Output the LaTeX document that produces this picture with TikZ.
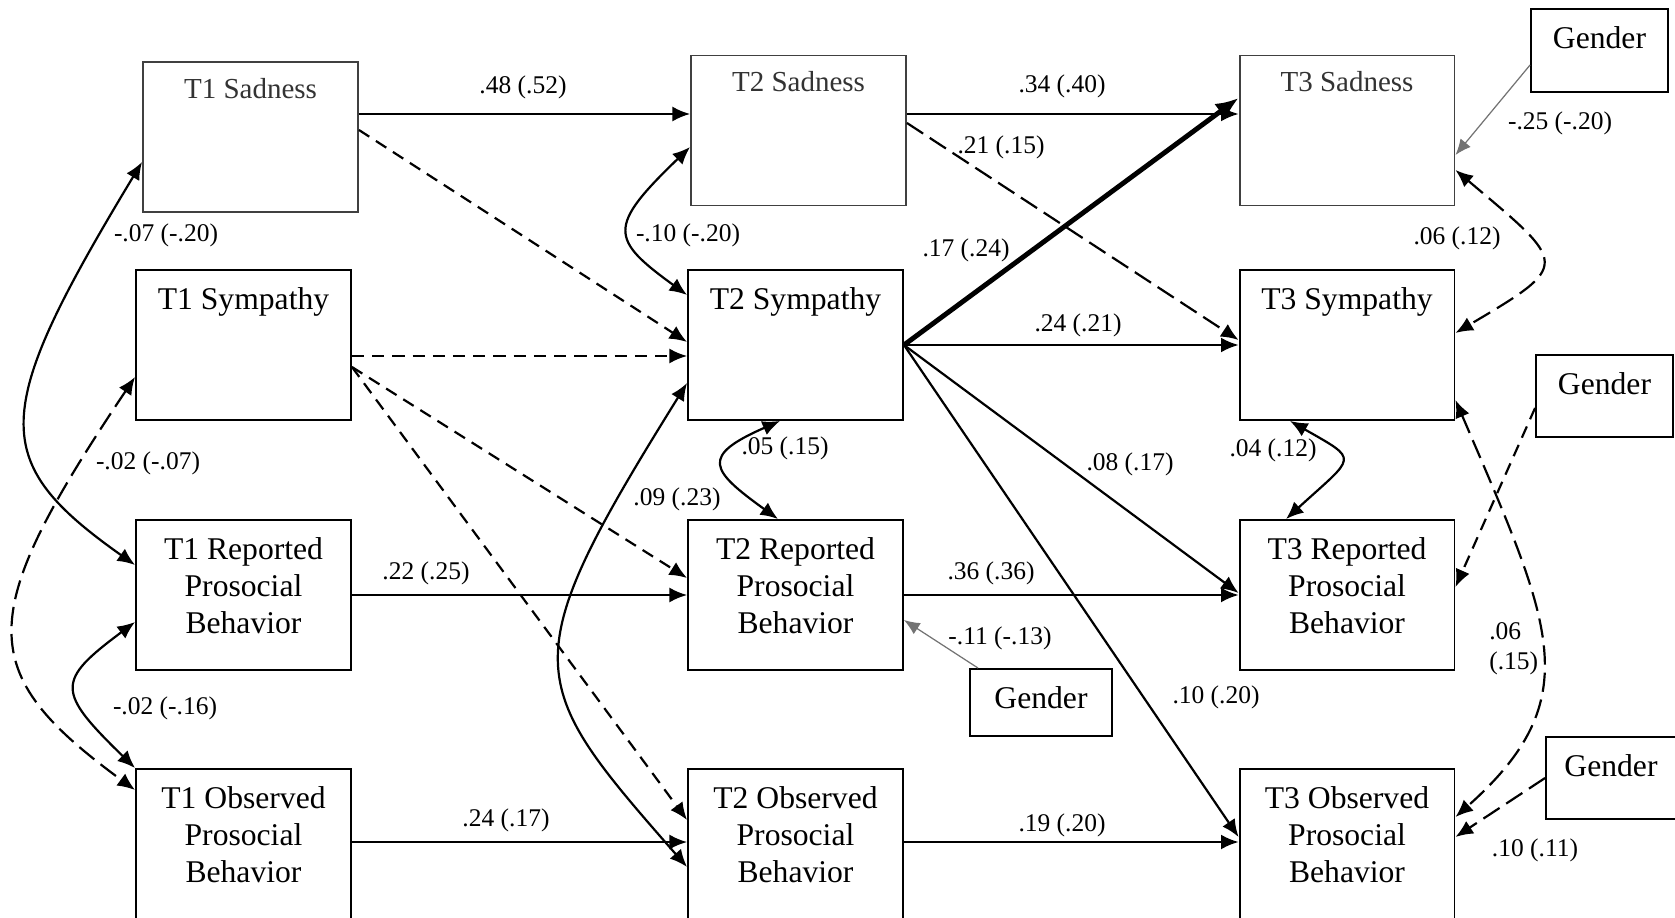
\documentclass[tikz,border=0pt]{standalone}
\usepackage{fontspec}
\setmainfont{Liberation Serif}
\usetikzlibrary{arrows.meta,calc,positioning}

\newcommand{\boxfont}{\fontsize{18}{21}\selectfont}
\newcommand{\coeffont}{\fontsize{14.5}{17}\selectfont}
\newcommand{\sadfont}{\fontsize{16.5}{20}\selectfont}

\tikzset{
  varbox/.style={draw,line width=1.1pt,minimum width=4.3cm,minimum height=3cm,inner sep=0pt},
  sadbox/.style={varbox,draw=black!75},
  gbox/.style={draw,line width=1.1pt,inner sep=0pt},
  boxtext/.style={anchor=north,yshift=-10.5pt,align=center,inner sep=0pt,font=\boxfont},
  sadtext/.style={anchor=north,yshift=-9.5pt,inner sep=0pt,font=\sadfont,text=black!80},
  coef/.style={font=\coeffont,inner sep=0pt},
  arr/.style={line width=1.25pt,-{Latex[length=10pt,width=8.5pt]}},
  cov/.style={line width=1.25pt,{Latex[length=10pt,width=8.5pt]}-{Latex[length=10pt,width=8.5pt]}},
  shortdash/.style={dash pattern=on 7pt off 4.5pt},
  longdash/.style={dash pattern=on 11pt off 4.5pt},
  garr/.style={draw=black!55,line width=0.7pt,-{Latex[length=9pt,width=7.5pt]}}
}

\begin{document}
\begin{tikzpicture}[x=0.02cm,y=-0.02cm]
  \useasboundingbox (0,0) rectangle (1675,918);

  % variables
  \node[sadbox,label={[sadtext]north:T1 Sadness}] (sad1) at (250.5,137) {};
  \node[sadbox,label={[sadtext]north:T2 Sadness}] (sad2) at (798.5,130.5) {};
  \node[sadbox,label={[sadtext]north:T3 Sadness}] (sad3) at (1347,130.5) {};
  \foreach \t/\x in {1/243.5,2/795.5,3/1347} {
    \node[varbox,label={[boxtext]north:T\t{} Sympathy}] (sym\t) at (\x,345) {};
    \node[varbox,label={[boxtext]north:T\t{} Reported\\Prosocial\\Behavior}] (rep\t) at (\x,595) {};
    \node[varbox,label={[boxtext]north:T\t{} Observed\\Prosocial\\Behavior}] (obs\t) at (\x,844) {};
  }
  \node[gbox,minimum width=2.74cm,minimum height=1.66cm,label={[boxtext]north:Gender}] (g1) at (1599.5,50.5) {};
  \node[gbox,minimum width=2.74cm,minimum height=1.64cm,label={[boxtext]north:Gender}] (g2) at (1604.5,396) {};
  \node[gbox,minimum width=2.84cm,minimum height=1.34cm,label={[boxtext]north:Gender}] (g3) at (1041,702.5) {};
  \node[gbox,minimum width=2.6cm,minimum height=1.64cm,label={[boxtext]north:Gender}] (g4) at (1611,778) {};

  % stability paths
  \draw[arr] (sad1.east |- 0,114) -- (sad2.west |- 0,114);
  \draw[arr] (sad2.east |- 0,114) -- (sad3.west |- 0,114);
  \draw[arr] (sym2.east) -- (sym3.west);
  \draw[arr] (rep1.east) -- (rep2.west);
  \draw[arr] (rep2.east) -- (rep3.west);
  \draw[arr] (obs1.east |- 0,842) -- (obs2.west |- 0,842);
  \draw[arr] (obs2.east |- 0,842) -- (obs3.west |- 0,842);

  % cross-lagged paths
  \draw[line width=2.8pt,-{Latex[length=13pt,width=11pt]}] (sym2.east) -- (sad3.west |- 0,98);
  \draw[arr] (sym2.east) -- (rep3.west |- 0,593);
  \draw[arr] (sym2.east) -- (obs3.west |- 0,837);
  \draw[arr,shortdash] (sad1.east |- 0,130) -- (sym2.west |- 0,342);
  \draw[arr,shortdash] (sym1.east |- 0,356) -- (sym2.west |- 0,356);
  \draw[arr,shortdash] (sym1.east |- 0,367) -- (rep2.west |- 0,578);
  \draw[arr,shortdash] (sym1.east |- 0,367) -- (obs2.west |- 0,820);
  \draw[arr,longdash] (sad2.east |- 0,123) -- (sym3.west |- 0,340);

  % covariances
  \draw[cov] (sad1.west |- 0,162) .. controls (-10,414) and (-12,461) .. (rep1.west |- 0,565);
  \draw[cov,longdash] (sym1.west |- 0,377) .. controls (-26,617) and (-26,672) .. (obs1.west |- 0,790);
  \draw[cov] (rep1.west |- 0,622) .. controls (56,681) and (56,691) .. (obs1.north west);
  \draw[cov] (sad2.west |- 0,147) .. controls (607,227) and (610,239) .. (sym2.west |- 0,295);
  \draw[cov] (sym2.south -| 780,0) .. controls (700,456) and (710,470) .. (rep2.north -| 778,0);
  \draw[cov] (sym2.west |- 0,383) .. controls (512,664) and (524,681) .. (obs2.west |- 0,867);
  \draw[cov,longdash] (sad3.east |- 0,170) .. controls (1568,265) and (1572,264) .. (sym3.east |- 0,333);
  \draw[cov] (sym3.south -| 1290,0) .. controls (1360,461) and (1356,455) .. (rep3.north -| 1286,0);
  \draw[cov,longdash] (sym3.east |- 0,400) .. controls (1552,625) and (1589,698) .. (obs3.east |- 0,817);

  % gender
  \draw[garr] (g1.west |- 0,65) -- (sad3.east |- 0,155);
  \draw[arr,shortdash] (g2.west |- 0,408) -- (rep3.east |- 0,587);
  \draw[garr] (g3.north -| 978,0) -- (rep2.east |- 0,620);
  \draw[arr,longdash] (g4.west) -- (obs3.east |- 0,837);

  % coefficients
  \node[coef] (c1) at (523,87) {.48 (.52)};
  \node[coef] (c2) at (1062,86) {.34 (.40)};
  \node[coef] (c3) at (1001,147) {.21 (.15)};
  \node[coef] (c4) at (688,235) {-.10 (-.20)};
  \node[coef] (c5) at (966,250) {.17 (.24)};
  \node[coef] (c6) at (1078,325) {.24 (.21)};
  \node[coef] (c7) at (785,448) {.05 (.15)};
  \node[coef] (c8) at (166,235) {-.07 (-.20)};
  \node[coef] (c9) at (148,463) {-.02 (-.07)};
  \node[coef] (c10) at (165,708) {-.02 (-.16)};
  \node[coef] (c11) at (426,573) {.22 (.25)};
  \node[coef] (c12) at (506,820) {.24 (.17)};
  \node[coef] (c13) at (677,499) {.09 (.23)};
  \node[coef] (c14) at (991,573) {.36 (.36)};
  \node[coef] (c15) at (1000,638) {-.11 (-.13)};
  \node[coef] (c16) at (1062,825) {.19 (.20)};
  \node[coef] (c17) at (1130,464) {.08 (.17)};
  \node[coef] (c18) at (1273,450) {.04 (.12)};
  \node[coef] (c19) at (1216,697) {.10 (.20)};
  \node[coef] (c20) at (1457,238) {.06 (.12)};
  \node[coef] (c21) at (1560,123) {-.25 (-.20)};
  \node[coef,anchor=west,align=left] (c22) at (1489,649) {.06\\(.15)};
  \node[coef] (c23) at (1535,850) {.10 (.11)};
\end{tikzpicture}
\end{document}
